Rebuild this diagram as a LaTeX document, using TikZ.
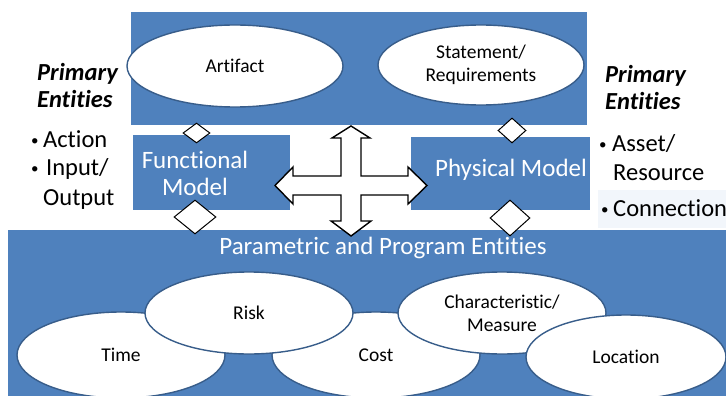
\documentclass[tikz,border=0pt]{standalone}
\usepackage{fontspec}
\setmainfont{Carlito}[Ligatures=NoCommon]
\usepackage{xcolor}
\usetikzlibrary{shapes.geometric}

\definecolor{panelblue}{RGB}{79,129,189}
\definecolor{rimblue}{RGB}{56,93,138}
\definecolor{paleband}{RGB}{242,246,251}

\newcommand{\dotitem}[1][12pt]{\makebox[#1][l]{\raisebox{1.5pt}{\fontsize{15}{15}\selectfont•}}}

\begin{document}
\begin{tikzpicture}[x=1pt,y=-1pt,
    panel/.style={fill=panelblue,draw=none,inner sep=0pt},
    entity/.style={ellipse,fill=white,draw=rimblue,line width=1.4pt,inner sep=0pt,
      align=center,text=black,font=\fontsize{19.5}{23}\selectfont},
    joint/.style={diamond,fill=white,draw=black,line width=1pt,inner sep=0pt},
    modeltext/.style={text=white,align=center,font=\fontsize{25}{27}\selectfont},
    sidetext/.style={anchor=base west,inner sep=0pt,font=\fontsize{24.5}{29}\selectfont},
    headtext/.style={sidetext,font=\fontsize{24.5}{29}\selectfont\bfseries\itshape},
  ]
  \useasboundingbox (0,0) rectangle (726,396);
  \clip (0,0) rectangle (726,396);

  % blue panels
  \node[panel,minimum width=456pt,minimum height=113pt] (reqpanel) at (359,68.5) {};
  \node[panel,minimum width=722pt,minimum height=170pt] (parampanel) at (369,315) {};
  \node[panel,minimum width=157pt,minimum height=75pt] (funcbox) at (211.5,172.5) {};
  \node[panel,minimum width=179pt,minimum height=73pt] (physbox) at (500.5,173.5) {};
  \fill[paleband] (598,190) rectangle (726,228);

  % diamonds between the models and the panels
  \node[joint,minimum width=27pt,minimum height=20pt] (functop) at (196.5,133) {};
  \node[joint,minimum width=42pt,minimum height=34pt] (funcbot) at (195,217) {};
  \node[joint,minimum width=28pt,minimum height=25pt] (phystop) at (512,130.5) {};
  \node[joint,minimum width=40pt,minimum height=36pt] (physbot) at (510,218) {};

  % four way arrow
  \coordinate (hub) at (351,185.5);
  \begin{scope}[shift={(hub)}]
    \draw[fill=white,line width=1.4pt,line join=miter]
      (0,-59.5) -- (19,-47.5) -- (10,-47.5) -- (10,-9.5) -- (57,-9.5) -- (57,-18.5)
      -- (76,0) -- (57,18.5) -- (57,9.5) -- (10,9.5) -- (10,35.5) -- (20,35.5)
      -- (0,50.5) -- (-20,35.5) -- (-10,35.5) -- (-10,9.5) -- (-58,9.5) -- (-58,18.5)
      -- (-76,0) -- (-58,-18.5) -- (-58,-9.5) -- (-10,-9.5) -- (-10,-47.5) -- (-19,-47.5)
      -- cycle;
  \end{scope}

  % entities
  \node[entity,minimum width=216pt,minimum height=82pt] (artifact) at (235,66) {Artifact};
  \node[entity,minimum width=206pt,minimum height=80pt] (stmt) at (481,65) {Statement/\\Requirements};
  \node[entity,minimum width=208pt,minimum height=86pt] (time) at (121,355) {Time};
  \node[entity,minimum width=208pt,minimum height=86pt] (cost) at (376,355) {Cost};
  \node[entity,minimum width=208pt,minimum height=82pt] (risk) at (249,313) {Risk};
  \node[entity,minimum width=208pt,minimum height=82pt] (charm) at (502,313) {Characteristic/\\Measure};
  \node[entity,minimum width=200pt,minimum height=84pt] (location) at (626,357) {Location};

  % model titles
  \node[modeltext] (functext) at (195,173) {Functional\\Model};
  \node[modeltext] (phystext) at (511,170) {Physical Model};
  \node[modeltext] (paramtext) at (383,248) {Parametric and Program Entities};

  % left list
  \node[headtext] (lprim) at (37,81) {Primary};
  \node[headtext] (lent) at (37,107) {Entities};
  \node[sidetext] (lact) at (31,147) {\dotitem Action};
  \node[sidetext] (linp) at (31,175) {\dotitem[15pt]Input/};
  \node[sidetext] (lout) at (43,205) {Output};

  % right list
  \node[headtext] (rprim) at (605,82) {Primary};
  \node[headtext] (rent) at (605,110) {Entities};
  \node[sidetext] (rass) at (599,151) {\dotitem[13pt]Asset/};
  \node[sidetext] (rres) at (613,180) {Resource};
  \node[sidetext] (rcon) at (601,216) {\dotitem Connection};
\end{tikzpicture}
\end{document}
